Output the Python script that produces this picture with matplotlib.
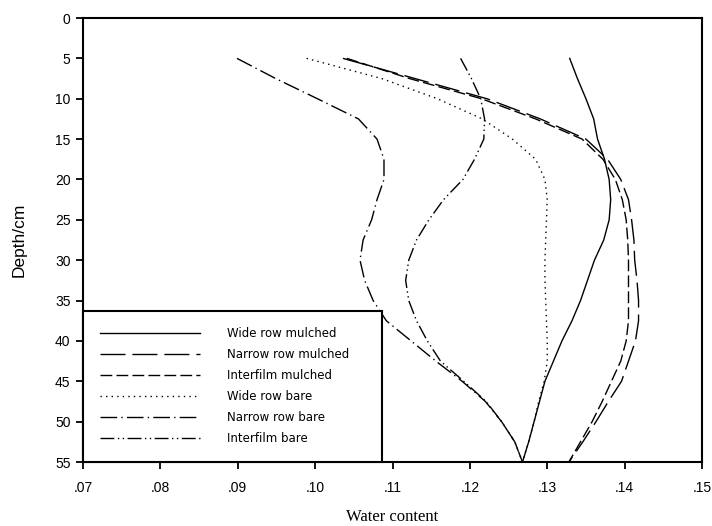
import matplotlib
matplotlib.use("Agg")
import matplotlib.pyplot as plt

# depth (cm) shared by every profile
depth = [5, 7.5, 10, 12.5, 15, 17.5, 20, 22.5, 25, 27.5, 30,
         32.5, 35, 37.5, 40, 42.5, 45, 47.5, 50, 52.5, 55]

wide_row_mulched = [.1329, .1339, .1350, .1360, .1365, .1374, .1380, .1382, .1380, .1373, .1361,
                    .1352, .1343, .1332, .1319, .1308, .1297, .1290, .1283, .1276, .1268]
narrow_row_mulched = [.1036, .1129, .1222, .1291, .1350, .1378, .1395, .1405, .1409, .1412, .1413,
                      .1416, .1418, .1418, .1414, .1405, .1396, .1379, .1363, .1346, .1328]
interfilm_mulched = [.1041, .1122, .1215, .1285, .1345, .1372, .1388, .1397, .1402, .1404, .1405,
                     .1405, .1405, .1405, .1402, .1395, .1383, .1371, .1358, .1343, .1328]
wide_row_bare = [.0989, .1086, .1158, .1216, .1255, .1285, .1297, .1300, .1299, .1298, .1297,
                 .1297, .1298, .1299, .1300, .1300, .1296, .1289, .1283, .1276, .1268]
narrow_row_bare = [.0899, .0949, .1003, .1056, .1080, .1089, .1089, .1080, .1073, .1062, .1058,
                   .1064, .1075, .1092, .1124, .1156, .1190, .1220, .1241, .1258, .1268]
interfilm_bare = [.1188, .1202, .1214, .1219, .1218, .1206, .1191, .1166, .1147, .1131, .1121,
                  .1117, .1121, .1131, .1145, .1162, .1192, .1221, .1241, .1258, .1268]

labels = ["Wide row mulched", "Narrow row mulched", "Interfilm mulched",
          "Wide row bare", "Narrow row bare", "Interfilm bare"]
x_ticks = [.07, .08, .09, .10, .11, .12, .13, .14, .15]
x_tick_labels = [".07", ".08", ".09", ".10", ".11", ".12", ".13", ".14", ".15"]
y_ticks = [0, 5, 10, 15, 20, 25, 30, 35, 40, 45, 50, 55]

series = [wide_row_mulched, narrow_row_mulched, interfilm_mulched,
          wide_row_bare, narrow_row_bare, interfilm_bare]
dashes = [None, (18, 5), (8.5, 3), (1, 3), (12, 3, 1, 3), (10, 2.5, 1, 2.5, 1, 2.5)]

fig = plt.figure(figsize=(7.12, 5.26), dpi=100)
ax = fig.add_axes([83 / 712, 64 / 526, 619 / 712, 444 / 526])

for vals, lab, d in zip(series, labels, dashes):
    line, = ax.plot(vals, depth, color="black", lw=1.0, label=lab)
    if d is not None:
        line.set_dashes(d)

ax.set_xlim(0.07, 0.15)
ax.set_ylim(55, 0)
ax.set_xticks(x_ticks)
ax.set_xticklabels(x_tick_labels)
ax.set_yticks(y_ticks)

for sp in ax.spines.values():
    sp.set_linewidth(1.5)
ax.tick_params(direction="out", length=5, width=1.3, labelsize=10, pad=4)
ax.tick_params(axis="x", pad=9)
for t in ax.get_xticklabels() + ax.get_yticklabels():
    t.set_fontfamily("Liberation Sans")

ax.set_xlabel("Water content", fontsize=12, family="Liberation Serif", labelpad=10)
ax.set_ylabel("Depth/cm", fontsize=12.5, family="Liberation Sans", labelpad=20)

leg = ax.legend(loc="lower left", bbox_to_anchor=(0, 0, 0.483, 0.345), mode="expand",
                borderaxespad=0, fancybox=False, framealpha=1, edgecolor="black",
                prop={"family": "DejaVu Sans", "size": 8.5},
                handlelength=8.5, handletextpad=2.3, labelspacing=0.68, borderpad=1.4)
leg.get_frame().set_linewidth(1.5)

fig.savefig("out.png", dpi=100)
